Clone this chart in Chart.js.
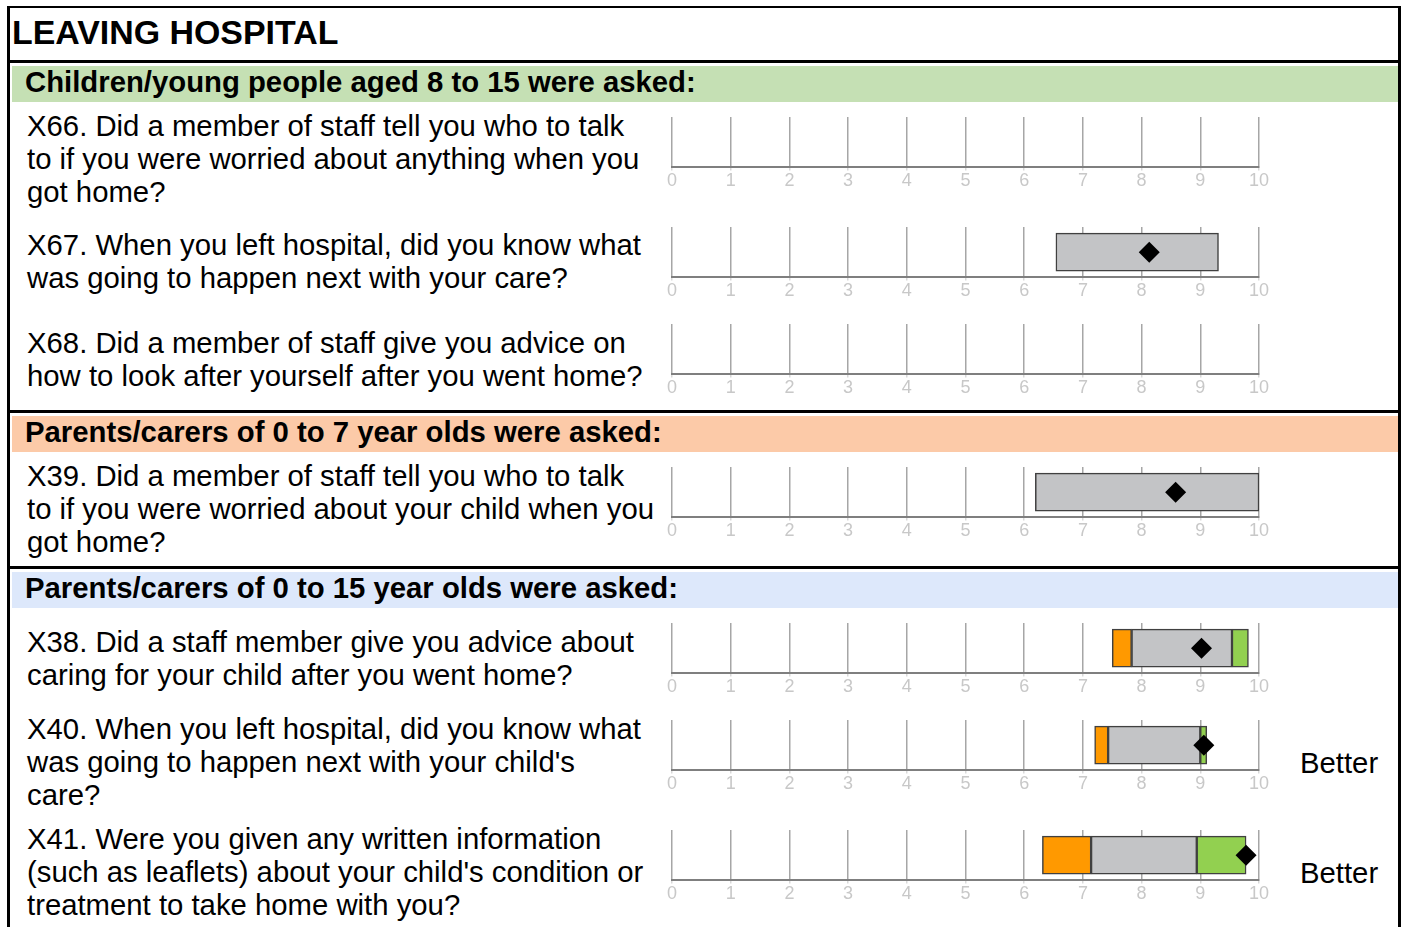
<!DOCTYPE html>
<html>
<head>
<meta charset="utf-8">
<script src="https://cdn.jsdelivr.net/npm/chart.js@4"></script>
<style>
	body { margin: 0; background: #fff; font-family: "Liberation Sans", Arial, sans-serif; }
	#page { position: relative; width: 1403px; height: 927px; overflow: hidden; }
	.line { position: absolute; background: #000; }
	.band { position: absolute; left: 12px; width: 1386px; }
	.head { position: absolute; left: 25px; font-weight: bold; font-size: 29.3px; line-height: 34px; color: #000; white-space: nowrap; }
	.question { position: absolute; left: 27px; font-size: 29.3px; line-height: 33px; color: #000; white-space: nowrap; }
	.better { position: absolute; left: 1300px; font-size: 29.3px; line-height: 33px; color: #000; }
	canvas { position: absolute; left: 652px; }
</style>
</head>
<body>
<div id="page">
	<div class="band" style="top: 66px; height: 36px; background: #c5e0b4;"></div>
	<div class="band" style="top: 416px; height: 36px; background: #fccaa8;"></div>
	<div class="band" style="top: 572px; height: 36px; background: #dde8fb;"></div>

	<div class="line" style="left: 7px; top: 6px; width: 3px; height: 930px;"></div>
	<div class="line" style="left: 1398px; top: 6px; width: 3px; height: 930px;"></div>
	<div class="line" style="left: 7px; top: 6px; width: 1394px; height: 2px;"></div>
	<div class="line" style="left: 7px; top: 60px; width: 1394px; height: 3px;"></div>
	<div class="line" style="left: 7px; top: 410px; width: 1394px; height: 3px;"></div>
	<div class="line" style="left: 7px; top: 566px; width: 1394px; height: 3px;"></div>

	<div class="head" style="left: 12px; top: 13px; font-size: 33.9px; line-height: 38px;">LEAVING HOSPITAL</div>
	<div class="head" style="top: 65px;">Children/young people aged 8 to 15 were asked:</div>
	<div class="head" style="top: 415px;">Parents/carers of 0 to 7 year olds were asked:</div>
	<div class="head" style="top: 571px;">Parents/carers of 0 to 15 year olds were asked:</div>

	<div id="rows"></div>
</div>

<script>
// one entry per question row
const questions = [
	["X66. Did a member of staff tell you who to talk", "to if you were worried about anything when you", "got home?"],
	["X67. When you left hospital, did you know what", "was going to happen next with your care?"],
	["X68. Did a member of staff give you advice on", "how to look after yourself after you went home?"],
	["X39. Did a member of staff tell you who to talk", "to if you were worried about your child when you", "got home?"],
	["X38. Did a staff member give you advice about", "caring for your child after you went home?"],
	["X40. When you left hospital, did you know what", "was going to happen next with your child's", "care?"],
	["X41. Were you given any written information", "(such as leaflets) about your child's condition or", "treatment to take home with you?"]
];
const bandLow  = [null, 6.54, null, 6.19, 7.50, 7.20, 6.31];
const midLow   = [null, 6.54, null, 6.19, 7.83, 7.43, 7.14];
const midHigh  = [null, 9.31, null, 10.0, 9.54, 9.00, 8.94];
const bandHigh = [null, 9.31, null, 10.0, 9.82, 9.11, 9.78];
const scores   = [null, 8.13, null, 8.58, 9.02, 9.06, 9.78];
const verdicts = ["", "", "", "", "", "Better", "Better"];
const tickValues = [0, 1, 2, 3, 4, 5, 6, 7, 8, 9, 10];

// layout of each row on the page
const textTop  = [109, 228, 326, 459, 625, 712, 822];
const chartTop = [117, 227, 324, 467, 623, 720, 830];

Chart.defaults.font.family = '"Liberation Sans", Arial, sans-serif';

const rows = document.getElementById("rows");

function segment(from, to, colour)
{
	let value = (from === null || to === null || to - from <= 0) ? null : [from, to];
	return {
		data: [value],
		backgroundColor: colour,
		borderColor: '#404040',
		borderWidth: 1.5,
		borderSkipped: false,
		barThickness: 38,
		grouped: false
	};
}

for (let i = 0; i < questions.length; i++)
{
	const q = document.createElement("div");
	q.className = "question";
	q.style.top = textTop[i] + "px";
	q.innerHTML = questions[i].join("<br>");
	rows.appendChild(q);

	if (verdicts[i] !== "")
	{
		const b = document.createElement("div");
		b.className = "better";
		b.style.top = (chartTop[i] + 26) + "px";
		b.textContent = verdicts[i];
		rows.appendChild(b);
	}

	const canvas = document.createElement("canvas");
	canvas.width = 640;
	canvas.height = 75;
	canvas.style.top = chartTop[i] + "px";
	rows.appendChild(canvas);

	new Chart(canvas.getContext('2d'), {
		type: 'bar',
		data: {
			labels: ['q'],
			datasets: [
				{
					type: 'line',
					indexAxis: 'y',
					data: [scores[i]],
					showLine: false,
					pointStyle: 'rectRot',
					pointRadius: 10.5,
					pointHoverRadius: 10.5,
					pointBackgroundColor: '#000',
					pointBorderColor: '#000',
					pointBorderWidth: 0,
					order: -1
				},
				segment(bandLow[i], midLow[i], '#ff9900'),
				segment(midLow[i], midHigh[i], '#c3c4c6'),
				segment(midHigh[i], bandHigh[i], '#92d050')
			]
		},
		options: {
			indexAxis: 'y',
			responsive: false,
			animation: false,
			events: [],
			layout: { autoPadding: false, padding: { left: 20, right: 33, top: 0, bottom: 0 } },
			plugins: { legend: { display: false }, tooltip: { enabled: false } },
			scales: {
				x: {
					type: 'linear',
					min: 0,
					max: 10,
					afterBuildTicks: (axis) => { axis.ticks = tickValues.map(v => ({ value: v })); },
					ticks: { color: '#c8c8c8', font: { size: 18 }, padding: 0, maxRotation: 0 },
					grid: { color: '#a6a6a6', lineWidth: 1.5, tickLength: 3, tickColor: '#d9d9d9' },
					border: { color: '#7f7f7f', width: 2 }
				},
				y: { display: false }
			}
		}
	});
}
</script>
</body>
</html>
